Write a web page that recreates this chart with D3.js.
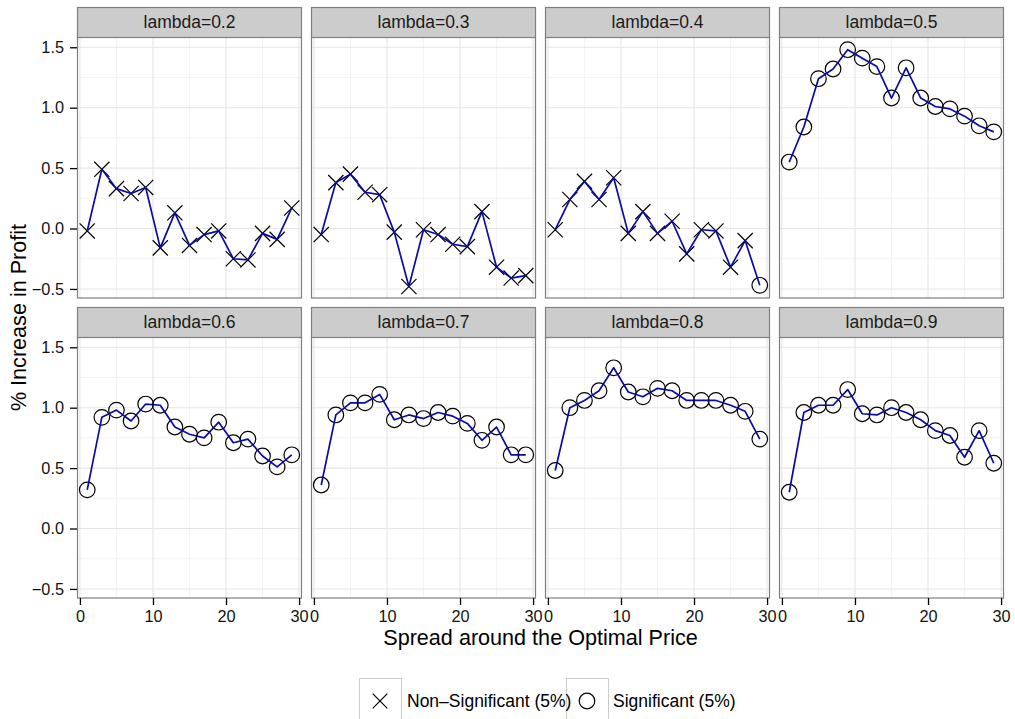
<!DOCTYPE html>
<html>
<head>
<meta charset="utf-8">
<script src="https://cdn.jsdelivr.net/npm/d3@7"></script>
<style>
  html, body { margin: 0; padding: 0; background: #ffffff; }
  svg { display: block; font-family: "Liberation Sans", Arial, Helvetica, sans-serif; }
</style>
</head>
<body>
<svg id="chart" width="1015" height="719"></svg>
<script>
// ---------------- data ----------------
const xValues = [1, 3, 5, 7, 9, 11, 13, 15, 17, 19, 21, 23, 25, 27, 29];
const lambdaLabels = ["lambda=0.2", "lambda=0.3", "lambda=0.4", "lambda=0.5",
                      "lambda=0.6", "lambda=0.7", "lambda=0.8", "lambda=0.9"];

const profit02 = [-0.02, 0.49, 0.33, 0.29, 0.34, -0.16, 0.13, -0.14, -0.05, -0.02, -0.25, -0.26, -0.04, -0.09, 0.17];
const profit03 = [-0.05, 0.38, 0.45, 0.30, 0.28, -0.03, -0.48, -0.01, -0.05, -0.13, -0.15, 0.14, -0.32, -0.41, -0.39];
const profit04 = [-0.01, 0.24, 0.39, 0.24, 0.42, -0.04, 0.14, -0.04, 0.06, -0.21, -0.01, -0.02, -0.32, -0.10, -0.47];
const profit05 = [0.55, 0.84, 1.24, 1.32, 1.48, 1.41, 1.34, 1.08, 1.33, 1.08, 1.01, 0.99, 0.93, 0.85, 0.80];
const profit06 = [0.32, 0.92, 0.98, 0.89, 1.03, 1.02, 0.84, 0.78, 0.75, 0.88, 0.71, 0.74, 0.60, 0.51, 0.61];
const profit07 = [0.36, 0.94, 1.04, 1.04, 1.11, 0.90, 0.94, 0.91, 0.96, 0.93, 0.87, 0.73, 0.84, 0.61, 0.61];
const profit08 = [0.48, 1.00, 1.06, 1.14, 1.33, 1.13, 1.09, 1.16, 1.14, 1.06, 1.06, 1.06, 1.02, 0.97, 0.74];
const profit09 = [0.30, 0.96, 1.02, 1.02, 1.15, 0.95, 0.94, 1.00, 0.96, 0.90, 0.81, 0.77, 0.59, 0.81, 0.54];

// "N" = Non-Significant (5%), "S" = Significant (5%)
const sig02 = ["N","N","N","N","N","N","N","N","N","N","N","N","N","N","N"];
const sig03 = ["N","N","N","N","N","N","N","N","N","N","N","N","N","N","N"];
const sig04 = ["N","N","N","N","N","N","N","N","N","N","N","N","N","N","S"];
const sig05 = ["S","S","S","S","S","S","S","S","S","S","S","S","S","S","S"];
const sig06 = ["S","S","S","S","S","S","S","S","S","S","S","S","S","S","S"];
const sig07 = ["S","S","S","S","S","S","S","S","S","S","S","S","S","S","S"];
const sig08 = ["S","S","S","S","S","S","S","S","S","S","S","S","S","S","S"];
const sig09 = ["S","S","S","S","S","S","S","S","S","S","S","S","S","S","S"];

const yTicks = [-0.5, 0.0, 0.5, 1.0, 1.5];
const yMinor = [-0.25, 0.25, 0.75, 1.25];
const xTicks = [0, 10, 20, 30];
const xMinor = [5, 15, 25];
const legendLabels = ["Non\u2013Significant (5%)", "Significant (5%)"];
const legendKeys = ["N", "S"];
const xTitle = "Spread around the Optimal Price";
const yTitle = "% Increase in Profit";

const allProfit = [profit02, profit03, profit04, profit05, profit06, profit07, profit08, profit09];
const allSig = [sig02, sig03, sig04, sig05, sig06, sig07, sig08, sig09];

// ---------------- layout ----------------
const svg = d3.select("#chart");
const colLeft = [77, 311, 545, 779];
const panelW = 225;
const stripH = 30;
const rowStripTop = [7, 307];
const panelH = 261;

const x = d3.scaleLinear().domain([-0.4, 30.4]).range([0, panelW]);
const y = d3.scaleLinear().domain([-0.575, 1.585]).range([panelH, 0]);

const markR = 7.8;
const crossR = 7.6;

function drawMarker(g, type, cx, cy, rr, rc) {
  if (type === "S") {
    g.append("circle").attr("cx", cx).attr("cy", cy).attr("r", rr)
      .attr("fill", "none").attr("stroke", "#000").attr("stroke-width", 1.2);
  } else {
    g.append("path")
      .attr("d", `M${cx - rc},${cy - rc}L${cx + rc},${cy + rc}M${cx - rc},${cy + rc}L${cx + rc},${cy - rc}`)
      .attr("fill", "none").attr("stroke", "#000").attr("stroke-width", 1.2);
  }
}

allProfit.forEach((vals, i) => {
  const col = i % 4, row = Math.floor(i / 4);
  const px = colLeft[col];
  const stripTop = rowStripTop[row];
  const py = stripTop + stripH;
  const g = svg.append("g").attr("transform", `translate(${px},${py})`);

  // background
  g.append("rect").attr("width", panelW).attr("height", panelH).attr("fill", "#fff");
  // minor grid
  yMinor.forEach(v => g.append("line").attr("x1", 0).attr("x2", panelW)
    .attr("y1", y(v)).attr("y2", y(v)).attr("stroke", "#f3f3f3").attr("stroke-width", 1));
  xMinor.forEach(v => g.append("line").attr("y1", 0).attr("y2", panelH)
    .attr("x1", x(v)).attr("x2", x(v)).attr("stroke", "#f3f3f3").attr("stroke-width", 1));
  // major grid
  yTicks.forEach(v => g.append("line").attr("x1", 0).attr("x2", panelW)
    .attr("y1", y(v)).attr("y2", y(v)).attr("stroke", "#e5e5e5").attr("stroke-width", 1.1));
  xTicks.forEach(v => g.append("line").attr("y1", 0).attr("y2", panelH)
    .attr("x1", x(v)).attr("x2", x(v)).attr("stroke", "#e5e5e5").attr("stroke-width", 1.1));

  const pts = xValues.map((xv, j) => ({ x: xv, y: vals[j], s: allSig[i][j] }));

  // points
  const gp = g.append("g");
  pts.forEach(d => drawMarker(gp, d.s, x(d.x), y(d.y), markR, crossR));

  // line
  g.append("path").datum(pts)
    .attr("d", d3.line().x(d => x(d.x)).y(d => y(d.y)))
    .attr("fill", "none").attr("stroke", "#0a0aa6").attr("stroke-width", 1.7)
    .attr("stroke-linejoin", "round");

  // panel border
  g.append("rect").attr("x", 0.5).attr("y", 0).attr("width", panelW - 1).attr("height", panelH)
    .attr("fill", "none").attr("stroke", "#7f7f7f").attr("stroke-width", 1.2);

  // strip
  svg.append("rect").attr("x", px + 0.5).attr("y", stripTop + 0.5).attr("width", panelW - 1).attr("height", stripH)
    .attr("fill", "#cccccc").attr("stroke", "#7f7f7f").attr("stroke-width", 1.2);
  svg.append("text").attr("x", px + panelW / 2).attr("y", stripTop + stripH / 2 + 6)
    .attr("text-anchor", "middle").attr("font-size", 17.5).attr("fill", "#1a1a1a")
    .text(lambdaLabels[i]);

  // y axis on left column
  if (col === 0) {
    const ay = svg.append("g").attr("transform", `translate(${px},${py})`)
      .call(d3.axisLeft(y).tickValues(yTicks).tickFormat(d3.format(".1f")).tickSizeInner(7).tickSizeOuter(0).tickPadding(6));
    ay.select(".domain").remove();
    ay.selectAll(".tick line").attr("stroke", "#000").attr("stroke-width", 1.3);
    ay.selectAll(".tick text").attr("font-size", 16.3).attr("fill", "#111")
      .attr("font-family", "'Liberation Sans', Arial, sans-serif");
  }
  // x axis on bottom row
  if (row === 1) {
    const ax = svg.append("g").attr("transform", `translate(${px},${py + panelH})`)
      .call(d3.axisBottom(x).tickValues(xTicks).tickFormat(d3.format("d")).tickSizeInner(7).tickSizeOuter(0).tickPadding(5));
    ax.select(".domain").remove();
    ax.selectAll(".tick line").attr("stroke", "#000").attr("stroke-width", 1.3);
    ax.selectAll(".tick text").attr("font-size", 16.3).attr("fill", "#111")
      .attr("font-family", "'Liberation Sans', Arial, sans-serif");
  }
});

// axis titles
svg.append("text").attr("x", (colLeft[0] + colLeft[3] + panelW) / 2).attr("y", 645)
  .attr("text-anchor", "middle").attr("font-size", 21.6).attr("fill", "#000").text(xTitle);
svg.append("text").attr("transform", `translate(26,${(rowStripTop[0] + stripH + rowStripTop[1] + stripH + panelH) / 2}) rotate(-90)`)
  .attr("text-anchor", "middle").attr("font-size", 21.6).attr("fill", "#000").text(yTitle);

// legend: key boxes first, then markers and labels on top
const legendKeyX = [359, 566];
const legendTextX = [407, 613];
const lgBoxes = svg.append("g");
const lgTop = svg.append("g");
legendKeys.forEach((k, i) => {
  lgBoxes.append("rect").attr("x", legendKeyX[i] + 0.5).attr("y", 678.5).attr("width", 42).attr("height", 42)
    .attr("fill", "#fff").attr("stroke", "#cccccc").attr("stroke-width", 1);
  drawMarker(lgTop, k, legendKeyX[i] + 21, 701, 7.8, 7.3);
  lgTop.append("text").attr("x", legendTextX[i]).attr("y", 707).attr("font-size", 17.5).attr("fill", "#000")
    .text(legendLabels[i]);
});
</script>
</body>
</html>
